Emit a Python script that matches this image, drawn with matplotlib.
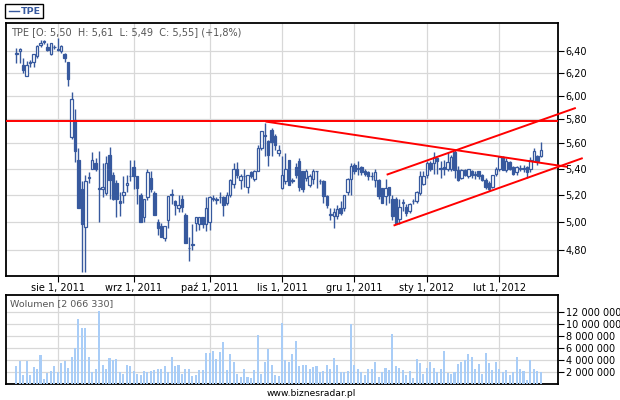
import numpy as np
import matplotlib
matplotlib.use('Agg')
import matplotlib.pyplot as plt
from matplotlib.patches import Rectangle
from matplotlib.lines import Line2D
from matplotlib.ticker import NullLocator, NullFormatter

# daily quotes TPE, 14.07.2011 - 17.02.2012
opens = [6.38, 6.40, 6.28, 6.18, 6.29, 6.30, 6.36, 6.46, 6.50, 6.44,
         6.38, 6.44, 6.42, 6.40, 6.38, 6.30, 5.65, 5.79, 5.47, 5.24,
         4.96, 5.33, 5.40, 5.44, 5.25, 5.24, 5.21, 5.51, 5.35, 5.29,
         5.15, 5.20, 5.27, 5.34, 5.41, 5.34, 5.20, 5.03, 5.18, 5.33,
         5.21, 5.00, 4.97, 4.88, 5.01, 5.20, 5.15, 5.10, 5.17, 5.05,
         4.81, 4.83, 4.99, 4.98, 5.03, 4.98, 5.00, 5.17, 5.16, 5.18,
         5.18, 5.14, 5.20, 5.28, 5.40, 5.31, 5.34, 5.26, 5.37, 5.32,
         5.38, 5.56, 5.67, 5.62, 5.71, 5.66, 5.52, 5.25, 5.30, 5.47,
         5.30, 5.41, 5.46, 5.38, 5.33, 5.27, 5.32, 5.38, 5.30, 5.30,
         5.19, 5.05, 5.04, 5.04, 5.10, 5.10, 5.22, 5.32, 5.43, 5.40,
         5.41, 5.38, 5.37, 5.34, 5.31, 5.31, 5.25, 5.19, 5.26, 5.17,
         5.17, 5.02, 5.14, 5.11, 5.08, 5.15, 5.15, 5.21, 5.28, 5.35,
         5.44, 5.44, 5.48, 5.40, 5.41, 5.40, 5.40, 5.53, 5.39, 5.33,
         5.39, 5.34, 5.38, 5.35, 5.38, 5.35, 5.31, 5.29, 5.26, 5.36,
         5.40, 5.49, 5.39, 5.45, 5.41, 5.37, 5.40, 5.40, 5.41, 5.40,
         5.46, 5.50, 5.50]
highs = [6.43, 6.43, 6.34, 6.31, 6.32, 6.38, 6.46, 6.51, 6.51, 6.48,
         6.48, 6.46, 6.53, 6.46, 6.39, 6.30, 6.03, 5.89, 5.56, 5.30,
         5.35, 5.37, 5.53, 5.48, 5.54, 5.44, 5.50, 5.57, 5.37, 5.31,
         5.22, 5.34, 5.35, 5.47, 5.47, 5.34, 5.21, 5.17, 5.40, 5.38,
         5.23, 5.02, 4.99, 4.97, 5.19, 5.24, 5.16, 5.20, 5.20, 5.06,
         4.89, 4.98, 5.03, 5.03, 5.03, 5.18, 5.19, 5.20, 5.18, 5.22,
         5.19, 5.22, 5.32, 5.44, 5.45, 5.36, 5.40, 5.35, 5.38, 5.39,
         5.59, 5.70, 5.77, 5.63, 5.73, 5.68, 5.59, 5.50, 5.52, 5.47,
         5.33, 5.44, 5.48, 5.38, 5.40, 5.36, 5.40, 5.38, 5.32, 5.31,
         5.20, 5.10, 5.10, 5.12, 5.15, 5.20, 5.33, 5.44, 5.44, 5.46,
         5.42, 5.40, 5.38, 5.37, 5.40, 5.32, 5.25, 5.32, 5.26, 5.20,
         5.18, 5.17, 5.17, 5.13, 5.14, 5.17, 5.23, 5.38, 5.38, 5.46,
         5.46, 5.53, 5.49, 5.46, 5.47, 5.53, 5.51, 5.55, 5.42, 5.40,
         5.40, 5.40, 5.39, 5.38, 5.38, 5.36, 5.33, 5.30, 5.35, 5.41,
         5.50, 5.50, 5.48, 5.46, 5.42, 5.42, 5.43, 5.43, 5.42, 5.49,
         5.56, 5.51, 5.61]
lows = [6.29, 6.29, 6.20, 6.18, 6.26, 6.26, 6.34, 6.44, 6.47, 6.40,
        6.37, 6.42, 6.40, 6.39, 6.30, 6.09, 5.64, 5.45, 5.10, 4.65,
        4.65, 5.29, 5.40, 5.38, 5.00, 5.18, 5.20, 5.17, 5.16, 5.03,
        5.04, 5.14, 5.22, 5.30, 5.24, 5.13, 5.00, 5.00, 5.16, 5.22,
        5.05, 4.90, 4.89, 4.86, 4.95, 5.13, 5.05, 5.07, 5.07, 4.85,
        4.72, 4.80, 4.93, 4.94, 4.95, 4.93, 4.94, 5.15, 5.13, 5.14,
        5.04, 5.12, 5.18, 5.25, 5.33, 5.24, 5.26, 5.21, 5.33, 5.30,
        5.38, 5.55, 5.50, 5.42, 5.50, 5.55, 5.50, 5.24, 5.28, 5.27,
        5.29, 5.33, 5.23, 5.22, 5.30, 5.26, 5.28, 5.25, 5.28, 5.14,
        5.10, 5.01, 4.95, 5.02, 5.05, 5.08, 5.20, 5.20, 5.36, 5.35,
        5.35, 5.34, 5.31, 5.31, 5.26, 5.17, 5.14, 5.12, 5.14, 5.01,
        4.98, 4.98, 5.08, 5.04, 5.06, 5.13, 5.14, 5.20, 5.27, 5.33,
        5.38, 5.36, 5.36, 5.33, 5.35, 5.38, 5.38, 5.33, 5.30, 5.32,
        5.34, 5.33, 5.33, 5.32, 5.32, 5.30, 5.24, 5.23, 5.25, 5.34,
        5.38, 5.39, 5.37, 5.39, 5.35, 5.35, 5.38, 5.37, 5.33, 5.37,
        5.46, 5.43, 5.49]
closes = [6.39, 6.42, 6.23, 6.28, 6.30, 6.375, 6.45, 6.48, 6.49, 6.41,
          6.48, 6.44, 6.41, 6.45, 6.34, 6.15, 5.97, 5.54, 5.10, 4.98,
          5.30, 5.33, 5.47, 5.40, 5.24, 5.26, 5.44, 5.31, 5.17, 5.17,
          5.14, 5.22, 5.29, 5.34, 5.345, 5.25, 5.00, 5.17, 5.37, 5.24,
          5.05, 4.95, 4.89, 4.97, 5.19, 5.20, 5.12, 5.12, 5.11, 4.85,
          4.81, 4.84, 5.03, 5.03, 4.98, 5.10, 5.18, 5.17, 5.16, 5.18,
          5.12, 5.20, 5.31, 5.40, 5.35, 5.34, 5.34, 5.35, 5.34, 5.38,
          5.56, 5.70, 5.66, 5.51, 5.61, 5.59, 5.55, 5.35, 5.40, 5.27,
          5.31, 5.35, 5.26, 5.24, 5.38, 5.34, 5.38, 5.38, 5.30, 5.19,
          5.12, 5.05, 5.07, 5.09, 5.06, 5.20, 5.32, 5.42, 5.38, 5.40,
          5.37, 5.36, 5.34, 5.34, 5.37, 5.19, 5.14, 5.25, 5.20, 5.04,
          4.99, 5.11, 5.14, 5.06, 5.13, 5.15, 5.22, 5.34, 5.34, 5.44,
          5.40, 5.49, 5.46, 5.40, 5.40, 5.45, 5.49, 5.39, 5.31, 5.39,
          5.35, 5.40, 5.35, 5.36, 5.34, 5.31, 5.26, 5.24, 5.35, 5.40,
          5.49, 5.39, 5.46, 5.40, 5.36, 5.41, 5.40, 5.40, 5.37, 5.47,
          5.54, 5.46, 5.55]
# volume in millions of shares
volumes = [3.05, 3.9, 1.55, 3.9, 1.55, 2.8, 2.55, 4.9, 0.9, 1.9,
           2.2, 3.05, 2.0, 3.5, 3.8, 2.65, 4.5, 6.0, 10.9, 9.3,
           9.3, 4.5, 2.0, 2.5, 12.3, 3.2, 2.55, 4.3, 4.05, 4.15,
           2.0, 1.65, 3.15, 3.0, 2.2, 1.65, 1.5, 2.2, 1.95, 2.1,
           2.4, 2.55, 2.55, 3.05, 2.0, 4.5, 3.05, 3.15, 1.65, 2.5,
           2.5, 1.4, 1.55, 2.35, 2.4, 5.2, 5.15, 5.55, 4.2, 5.4,
           7.05, 2.35, 5.05, 3.7, 1.65, 1.1, 2.5, 1.15, 1.0, 2.35,
           8.2, 1.65, 3.7, 5.9, 3.15, 1.55, 1.4, 10.2, 3.95, 3.7,
           5.05, 7.2, 3.05, 3.2, 3.2, 2.55, 2.9, 3.05, 2.0, 2.2,
           3.2, 2.55, 4.4, 3.2, 2.0, 2.0, 2.2, 10.05, 3.2, 2.55,
           1.95, 1.55, 2.55, 2.55, 3.7, 1.1, 2.0, 2.7, 2.4, 8.4,
           3.05, 2.7, 2.4, 1.55, 2.2, 1.05, 4.2, 3.55, 1.7, 2.7,
           3.7, 2.7, 2.0, 2.55, 5.55, 1.9, 1.7, 2.0, 3.4, 3.7,
           4.05, 5.05, 4.55, 2.55, 3.4, 1.7, 5.2, 3.55, 2.4, 3.7,
           2.55, 2.0, 2.4, 1.55, 2.0, 4.55, 2.55, 2.2, 0.7, 4.05,
           2.55, 2.2, 2.066]

# first session of each month (index in the quote list)
month_idx = [12, 34, 56, 77, 98, 119, 140]
month_labels = ['sie 1, 2011', 'wrz 1, 2011', 'paź 1, 2011', 'lis 1, 2011',
                'gru 1, 2011', 'sty 1, 2012', 'lut 1, 2012']
price_ticks = [4.8, 5.0, 5.2, 5.4, 5.6, 5.8, 6.0, 6.2, 6.4]
vol_ticks = [2, 4, 6, 8, 10, 12]

# user drawn lines (session index, price)
resistance = 5.785
trend_x = [[72.5, 159.5], [107.6, 161.9], [109.6, 163.9]]
trend_y = [[5.78, 5.414], [5.354, 5.894], [4.973, 5.48]]

blue = '#37599e'
grid_c = '#d8d8d8'

o = np.array(opens); h = np.array(highs); l = np.array(lows); c = np.array(closes)
x = np.arange(len(c))
up = c >= o

fig = plt.figure(figsize=(6.2, 4.0), dpi=100)
ax = fig.add_axes([6/620, 124/400, 552/620, 253/400])
axv = fig.add_axes([6/620, 16/400, 552/620, 89/400])

# candles
ax.vlines(x, l, h, color=blue, lw=1, zorder=3)
body_lo = np.minimum(o, c)
body_h = np.maximum(np.abs(c - o), 0.004)
ax.bar(x, body_h, bottom=body_lo, width=0.72,
       color=np.where(up, 'white', blue), edgecolor=blue, linewidth=0.9, zorder=4)

# trend lines
ax.axhline(resistance, color='#ff0000', lw=1.4, zorder=5)
for tx, ty in zip(trend_x, trend_y):
    ax.plot(tx, ty, color='#ff0000', lw=1.4, zorder=5, clip_on=False)

ax.set_yscale('log')
ax.set_ylim(4.62, 6.67)
ax.set_yticks(price_ticks)
ax.set_yticklabels([('%.2f' % p).replace('.', ',') for p in price_ticks])
ax.yaxis.set_minor_locator(NullLocator())
ax.yaxis.set_minor_formatter(NullFormatter())
ax.yaxis.tick_right()
ax.set_xlim(-3, 157)
ax.set_xticks(month_idx)
ax.set_xticklabels(month_labels)

# volume
axv.bar(x, volumes, width=0.6, color='#a9cdf7', zorder=3)
axv.set_ylim(0, 14.9)
axv.set_yticks(vol_ticks)
axv.set_yticklabels(['%d 000 000' % v for v in vol_ticks])
axv.yaxis.tick_right()
axv.set_xlim(-3, 157)
axv.set_xticks(month_idx)
axv.tick_params(axis='x', length=0, labelbottom=False)

for a in (ax, axv):
    a.grid(True, color=grid_c, lw=0.9)
    a.set_axisbelow(True)
    for s in a.spines.values():
        s.set_color('black')
        s.set_linewidth(1.3)
    a.tick_params(axis='y', direction='out', length=4, width=0.8, pad=1.5, labelsize=7)
ax.tick_params(axis='x', direction='out', length=4, width=0.8, pad=1, labelsize=7)

ax.text(5/552, 1 - 9/253, 'TPE [O: 5,50  H: 5,61  L: 5,49  C: 5,55] (+1,8%)',
        transform=ax.transAxes, va='center', ha='left', fontsize=7, color='#555555')
axv.text(4/552, 1 - 9/89, 'Wolumen [2 066 330]', transform=axv.transAxes,
         va='center', ha='left', fontsize=6.8, color='#555555')

# legend box
fig.patches.append(Rectangle((5/620, 1 - 18/400), 38/620, 14/400, transform=fig.transFigure,
                             fc='white', ec='black', lw=1))
fig.lines.append(Line2D([9/620, 19/620], [1 - 11/400, 1 - 11/400], transform=fig.transFigure,
                        color=blue, lw=1))
fig.text(21/620, 1 - 11/400, 'TPE', fontsize=6.8, fontweight='bold', color=blue,
         va='center', ha='left')

fig.text(311/620, 1 - 393/400, 'www.biznesradar.pl', fontsize=6.6, ha='center', va='center')

fig.savefig('out.png', dpi=100)
